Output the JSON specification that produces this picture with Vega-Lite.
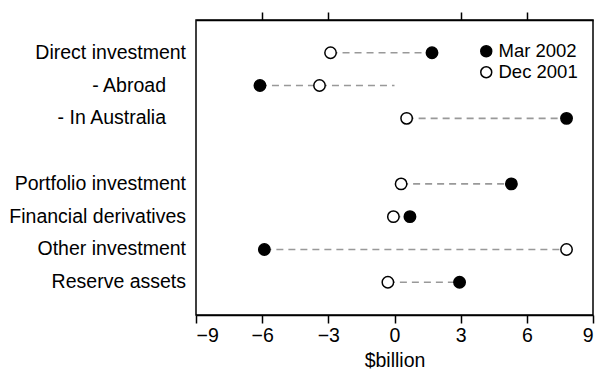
{
  "$schema": "https://vega.github.io/schema/vega-lite/v6.json",
  "width": 397,
  "height": 295,
  "autosize": {"type": "none"},
  "padding": {"left": 196, "top": 20, "right": 8, "bottom": 59},
  "config": {
    "font": "Liberation Sans",
    "view": {"stroke": "black", "strokeWidth": 1.5},
    "axis": {"labelFont": "Liberation Sans", "titleFont": "Liberation Sans", "labelColor": "black", "titleColor": "black"}
  },
  "data": {
    "values": [
      {"cat": "Direct investment", "Mar 2002": 1.7, "Dec 2001": -2.9, "from": -2.9, "to": 1.7},
      {"cat": "- Abroad", "Mar 2002": -6.1, "Dec 2001": -3.4, "from": -6.1, "to": 0},
      {"cat": "- In Australia", "Mar 2002": 7.8, "Dec 2001": 0.55, "from": 0.55, "to": 7.8},
      {"cat": "Portfolio investment", "Mar 2002": 5.3, "Dec 2001": 0.3, "from": 0.3, "to": 5.3},
      {"cat": "Financial derivatives", "Mar 2002": 0.7, "Dec 2001": -0.05, "from": -0.05, "to": 0.7},
      {"cat": "Other investment", "Mar 2002": -5.9, "Dec 2001": 7.8, "from": -5.9, "to": 7.8},
      {"cat": "Reserve assets", "Mar 2002": 2.95, "Dec 2001": -0.3, "from": -0.3, "to": 2.95}
    ]
  },
  "encoding": {
    "y": {
      "field": "cat",
      "type": "nominal",
      "scale": {
        "type": "point",
        "padding": 1,
        "domain": ["Direct investment", "- Abroad", "- In Australia", " ", "Portfolio investment", "Financial derivatives", "Other investment", "Reserve assets"]
      },
      "axis": null
    }
  },
  "resolve": {"axis": {"x": "independent"}},
  "layer": [
    {
      "mark": {"type": "rule", "color": "#999999", "strokeWidth": 1.6, "strokeDash": [7, 5]},
      "encoding": {
        "x": {
          "field": "from", "type": "quantitative",
          "scale": {"domain": [-9, 9], "nice": false, "zero": false},
          "axis": {"values": [-9, -6, -3, 0, 3, 6, 9], "grid": false, "tickSize": 8, "tickColor": "black", "tickWidth": 1.5, "domainColor": "black", "domainWidth": 1.5, "labelFontSize": 19.5, "labelPadding": 3, "title": "$billion", "titleFontSize": 19.5, "titleFontWeight": "normal", "titlePadding": 7}
        },
        "x2": {"field": "to"}
      }
    },
    {
      "transform": [{"filter": "indexof(datum.cat, '- ') !== 0"}],
      "mark": {"type": "text", "align": "right", "baseline": "middle", "dx": -10, "fontSize": 19.5, "font": "Liberation Sans", "color": "black"},
      "encoding": {
        "x": {"datum": -9, "type": "quantitative", "axis": null},
        "text": {"field": "cat"}
      }
    },
    {
      "transform": [{"filter": "indexof(datum.cat, '- ') === 0"}],
      "mark": {"type": "text", "align": "right", "baseline": "middle", "dx": -30, "fontSize": 19.5, "font": "Liberation Sans", "color": "black"},
      "encoding": {
        "x": {"datum": -9, "type": "quantitative", "axis": null},
        "text": {"field": "cat"}
      }
    },
    {
      "transform": [{"fold": ["Mar 2002", "Dec 2001"], "as": ["series", "value"]}],
      "mark": {"type": "point", "filled": true, "stroke": "black", "strokeWidth": 1.5, "size": 130, "opacity": 1, "shape": "circle"},
      "encoding": {
        "x": {"field": "value", "type": "quantitative", "axis": null},
        "fill": {
          "field": "series", "type": "nominal",
          "scale": {"domain": ["Mar 2002", "Dec 2001"], "range": ["black", "white"]},
          "legend": {"title": null, "orient": "none", "legendX": 281, "legendY": 22, "labelFontSize": 18.5, "labelColor": "black", "symbolSize": 120, "symbolStrokeColor": "black", "symbolStrokeWidth": 1.5, "symbolType": "circle", "rowPadding": 2, "labelOffset": 3}
        }
      }
    },
    {
      "mark": {"type": "rule", "color": "black", "strokeWidth": 1.5},
      "encoding": {
        "x": {"datum": 0, "type": "quantitative", "axis": {"orient": "top", "values": [-6, -3, 3, 6], "labels": false, "title": null, "grid": false, "tickSize": 8, "tickColor": "black", "tickWidth": 1.5, "domainColor": "black", "domainWidth": 1.5}}
      }
    }
  ]
}
